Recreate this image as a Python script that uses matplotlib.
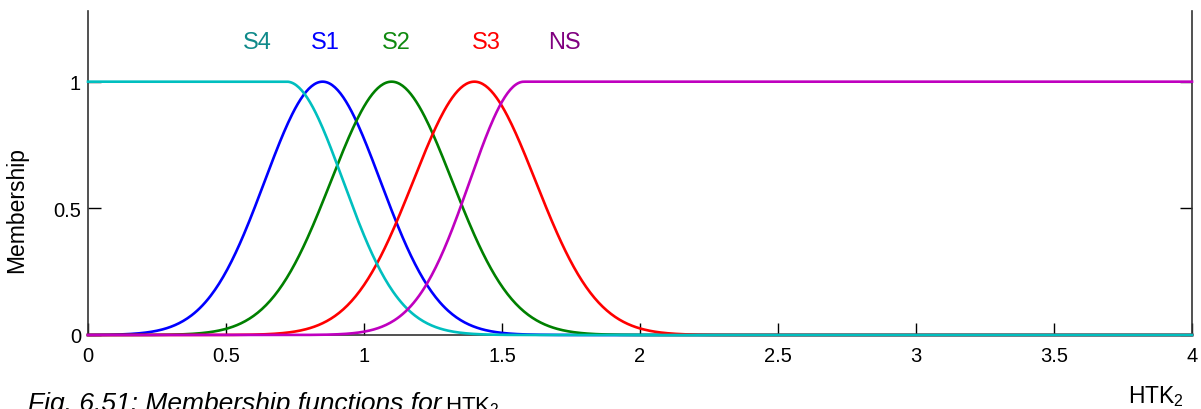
import numpy as np
import matplotlib
matplotlib.use('Agg')
import matplotlib.pyplot as plt

plt.rcParams['font.family'] = ['Liberation Sans', 'DejaVu Sans']
plt.rcParams['mathtext.default'] = 'regular'

# membership functions for HTK2, gauss2mf style: [sig_left, c_left, sig_right, c_right]
mf_names = ['S1', 'S2', 'S3', 'S4', 'NS']
sig_left = [0.21, 0.22, 0.222, 0.205, 0.197]
c_left = [0.85, 1.10, 1.40, 0.0, 1.58]
sig_right = [0.21, 0.22, 0.222, 0.205, 0.197]
c_right = [0.85, 1.10, 1.40, 0.72, 4.0]
line_colors = ['#0000ff', '#008000', '#ff0000', '#00bfbf', '#bf00bf']
text_colors = ['#0000ff', '#108a10', '#ff0000', '#0f8a8a', '#800080']
label_x = [0.86, 1.116, 1.442, 0.614, 1.725]
label_y = 1.155

x_ticks = [0, 0.5, 1, 1.5, 2, 2.5, 3, 3.5, 4]
x_ticklabels = ['0', '0.5', '1', '1.5', '2', '2.5', '3', '3.5', '4']
y_ticks = [0, 0.5, 1]
y_ticklabels = ['0', '0.5', '1']


def gauss2mf(x, s1, c1, s2, c2):
    y = np.ones_like(x)
    lo = x < c1
    hi = x > c2
    y[lo] = np.exp(-(x[lo] - c1) ** 2 / (2 * s1 ** 2))
    y[hi] = np.exp(-(x[hi] - c2) ** 2 / (2 * s2 ** 2))
    return y


fig = plt.figure(figsize=(12.01, 4.10), dpi=100)
ax = fig.add_axes([88 / 1201, 1 - 336 / 410, (1192 - 88) / 1201, (336 - 12) / 410])

xs = np.linspace(0, 4, 801)
for i, name in enumerate(mf_names):
    ys = gauss2mf(xs, sig_left[i], c_left[i], sig_right[i], c_right[i])
    ax.plot(xs, ys, color=line_colors[i], lw=1.9, clip_on=False, zorder=3)
    ax.text(label_x[i], label_y, name, color=text_colors[i], fontsize=17,
            ha='center', va='center')

ax.set_xlim(0, 4)
ax.set_ylim(0, 1.279)
ax.set_xticks(x_ticks)
ax.set_xticklabels(x_ticklabels)
ax.set_yticks(y_ticks)
ax.set_yticklabels(y_ticklabels)
ax.tick_params(direction='in', length=9, width=1, labelsize=14.5, right=True, top=False)
ax.tick_params(axis='x', pad=8)
ax.tick_params(axis='y', pad=5)
ax.spines['top'].set_visible(False)
for s in ['left', 'right', 'bottom']:
    ax.spines[s].set_color('#333333')
    ax.spines[s].set_linewidth(1.2)
ax.set_ylabel('Membership', fontsize=16.5)
ax.yaxis.set_label_coords(-0.054, 0.39)

fig.text(1156 / 1201, 1 - 397 / 410, 'HTK$_2$', fontsize=16.5, ha='center', va='center')
fig.text(28 / 1201, 1 - 392 / 410, 'Fig. 6.51: Membership functions for', fontsize=19,
         style='italic', ha='left', va='top')
fig.text(445 / 1201, 1 - 395 / 410, 'HTK$_2$', fontsize=16, ha='left', va='top')

fig.savefig('out.png', dpi=100)
